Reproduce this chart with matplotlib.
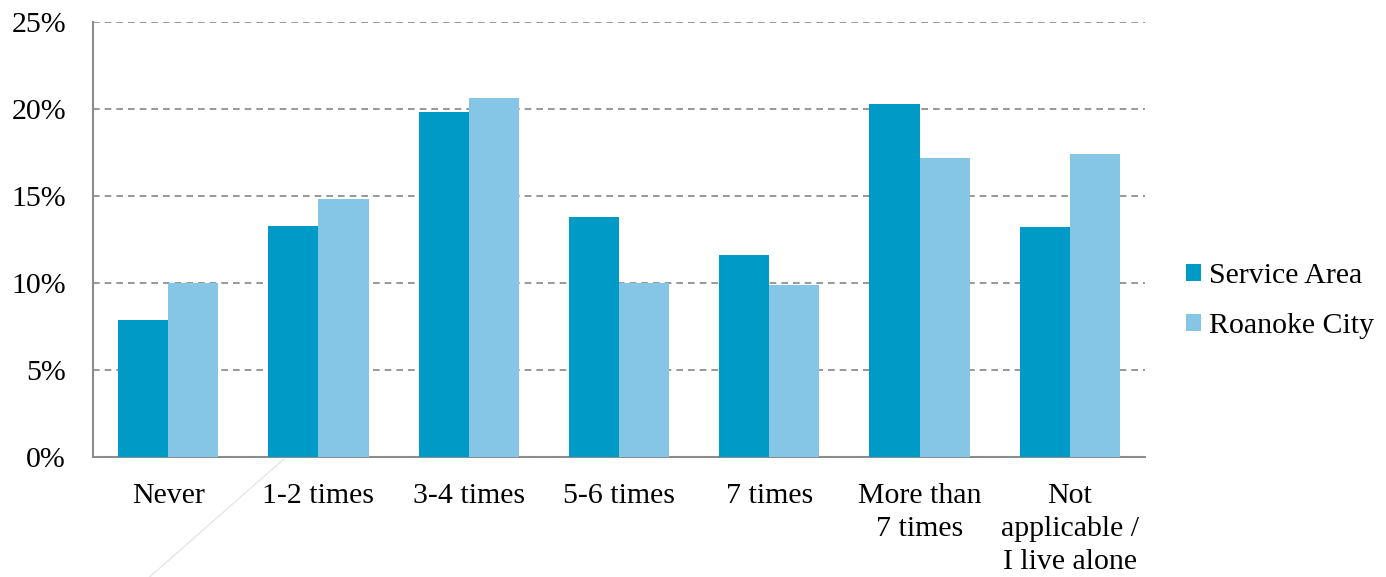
import numpy as np
import matplotlib
matplotlib.use("Agg")
import matplotlib.pyplot as plt
from matplotlib.lines import Line2D
from matplotlib.ticker import FuncFormatter

# data
categories = ["Never", "1-2 times", "3-4 times", "5-6 times", "7 times",
              "More than\n7 times", "Not\napplicable /\nI live alone"]
service_area = [7.9, 13.3, 19.8, 13.8, 11.6, 20.3, 13.2]
roanoke_city = [10.0, 14.8, 20.6, 10.0, 9.9, 17.2, 17.4]

plt.rcParams['font.family'] = ['Liberation Serif', 'DejaVu Serif']
plt.rcParams['font.size'] = 21.5

fig = plt.figure(figsize=(13.86, 5.77), dpi=100)
ax = fig.add_axes([0.0671, 0.208, 0.7590, 0.754])

x = np.arange(len(categories))
w = 1 / 3
ax.bar(x - w / 2, service_area, width=w, color='#009AC7', label='Service Area', zorder=3)
ax.bar(x + w / 2, roanoke_city, width=w, color='#85C5E5', label='Roanoke City', zorder=3)

ax.set_xlim(-0.5, len(categories) - 0.5)
ax.set_ylim(0, 25)
ax.set_yticks(range(0, 26, 5))
ax.yaxis.set_major_formatter(FuncFormatter(lambda v, p: f"{v:.0f}%"))
ax.set_xticks(x)
ax.set_xticklabels(categories, linespacing=1.33, va='top')
ax.tick_params(axis='y', length=0, pad=19.5)
ax.tick_params(axis='x', length=0, pad=19)

ax.grid(axis='y', color='#868686', linestyle=(0, (4, 3)), linewidth=1.2, zorder=0)
for s in ['top', 'right']:
    ax.spines[s].set_visible(False)
for s in ['left', 'bottom']:
    ax.spines[s].set_color('#8c8c8c')
    ax.spines[s].set_linewidth(1.5)

fig.legend(loc='center left', bbox_to_anchor=(0.836, 0.478), frameon=False,
           handlelength=0.5, handleheight=0.5, handletextpad=0.3, labelspacing=0.8)

# faint stray line present in the source image
fig.add_artist(Line2D([0.205, 0.108], [0.205, 0.0], color='#e6e6e6', linewidth=1))

fig.savefig("out.png", dpi=100)
